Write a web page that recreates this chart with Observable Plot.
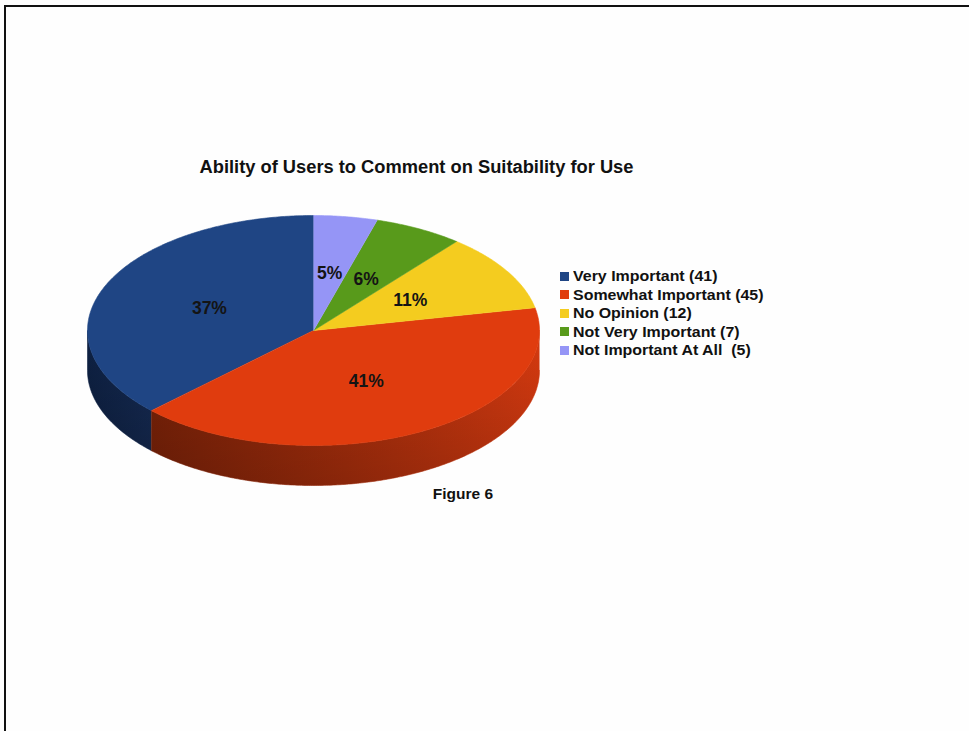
<!DOCTYPE html>
<html><head><meta charset="utf-8">
<script src="https://cdn.jsdelivr.net/npm/d3@7"></script>
<script src="https://cdn.jsdelivr.net/npm/@observablehq/plot@0.6"></script>
<style>
html,body{margin:0;padding:0;background:#fefefe;overflow:hidden;}
#page{position:relative;width:969px;height:731px;overflow:hidden;background:#fefefe;font-family:"Liberation Sans",Arial,sans-serif;color:#111;}
#frame{position:absolute;left:4px;top:5px;width:1100px;height:900px;border:2px solid #111;box-sizing:border-box;}
#chart{position:absolute;left:0;top:0;}
#title{position:absolute;left:0;width:833px;top:157px;text-align:center;font-weight:bold;font-size:17.5px;white-space:nowrap;transform:scaleX(1.045);}
#caption{position:absolute;left:363px;width:200px;top:485px;text-align:center;font-weight:bold;font-size:15.5px;}
#legend{position:absolute;left:560px;top:267px;font-weight:bold;font-size:14.5px;}
#legend .row{display:flex;align-items:center;height:18.5px;white-space:pre;}
#legend .sw{width:9px;height:9px;margin-right:4px;flex:none;}
#legend .lab{display:inline-block;transform:scaleX(1.1);transform-origin:left center;}
</style>
</head><body>
<div id="page">
  <div id="frame"></div>
  <div id="chart"></div>
  <div id="title"></div>
  <div id="legend"></div>
  <div id="caption"></div>
</div>
<script>
const titleText = "Ability of Users to Comment on Suitability for Use";
const captionText = "Figure 6";
const categories = ["Very Important", "Somewhat Important", "No Opinion", "Not Very Important", "Not Important At All"];
const counts = [41, 45, 12, 7, 5];
const legendLabels = ["Very Important (41)", "Somewhat Important (45)", "No Opinion (12)", "Not Very Important (7)", "Not Important At All  (5)"];
const topColors = ["#1f4584", "#e03c0e", "#f4cc1f", "#589a1b", "#9595f6"];
const sideLeftColors = ["#0e2143", "#7a2208", "#b89414", "#3e6e12", "#6a6ab8"];
const sideRightColors = ["#152a52", "#d63a10", "#d8b418", "#4a8216", "#8080d8"];

const total = d3.sum(counts);
const depth = 40 / 115; // side height in y units
const arcs = d3.pie().sort(null).startAngle(0).endAngle(-2 * Math.PI)(counts);

const pt = (a, r = 1, dy = 0) => ({x: r * Math.sin(a), y: -r * Math.cos(a) + dy});
function arcPoints(a0, a1, dy = 0) {
  const n = Math.max(2, Math.ceil(Math.abs(a1 - a0) / 0.01));
  return d3.range(n + 1).map(k => pt(a0 + (a1 - a0) * k / n, 1, dy));
}

// top faces
const tops = arcs.flatMap((d, i) => [
  {...pt(0, 0), key: categories[i], color: topColors[i]},
  ...arcPoints(d.startAngle, d.endAngle).map(p => ({...p, key: categories[i], color: topColors[i]}))
]);

// front sides (visible where the rim faces the viewer)
const frontLo = -1.5 * Math.PI, frontHi = -0.5 * Math.PI;
const sides = [];
arcs.forEach((d, i) => {
  const lo = Math.max(Math.min(d.startAngle, d.endAngle), frontLo);
  const hi = Math.min(Math.max(d.startAngle, d.endAngle), frontHi);
  if (hi > lo) {
    const pts = [...arcPoints(lo, hi), ...arcPoints(hi, lo, depth)];
    sides.push({i, pts});
  }
});

const labels = arcs.map((d, i) => {
  const m = (d.startAngle + d.endAngle) / 2;
  return {...pt(m, 0.5), text: Math.round(counts[i] / total * 100) + "%"};
});

const svg = Plot.plot({
  width: 969,
  height: 731,
  margin: 0,
  x: {domain: [-1, 1], range: [87, 539], axis: null},
  y: {domain: [-1, 1], range: [215, 445], axis: null},
  color: {type: "identity"},
  style: {background: "transparent", overflow: "visible"},
  marks: [
    ...sides.map(s => Plot.line(s.pts, {x: "x", y: "y", fill: `url(#sideGrad${s.i})`, stroke: `url(#sideGrad${s.i})`, strokeWidth: 0.6})),
    ...sides.map(s => Plot.line(s.pts, {x: "x", y: "y", fill: "url(#shadeGrad)", stroke: "none"})),
    Plot.line(tops, {x: "x", y: "y", z: "key", fill: "color", stroke: "color", strokeWidth: 0.6}),
    Plot.text(labels, {x: "x", y: "y", text: "text", fontSize: 17.5, fontWeight: "bold", fill: "#141414", fontFamily: "Liberation Sans, Arial, sans-serif"})
  ]
});

const defs = d3.select(svg).insert("defs", ":first-child");
sides.forEach(s => {
  const g = defs.append("linearGradient").attr("id", `sideGrad${s.i}`)
    .attr("x1", "0").attr("y1", "0").attr("x2", "1").attr("y2", "0");
  g.append("stop").attr("offset", "0").attr("stop-color", sideLeftColors[s.i]);
  g.append("stop").attr("offset", "1").attr("stop-color", sideRightColors[s.i]);
});
const sg = defs.append("linearGradient").attr("id", "shadeGrad")
  .attr("x1", "0").attr("y1", "0").attr("x2", "0").attr("y2", "1");
sg.append("stop").attr("offset", "0").attr("stop-color", "#000").attr("stop-opacity", 0);
sg.append("stop").attr("offset", "1").attr("stop-color", "#000").attr("stop-opacity", 0.18);

document.getElementById("chart").append(svg);
document.getElementById("title").textContent = titleText;
document.getElementById("caption").textContent = captionText;
const legend = d3.select("#legend");
legendLabels.forEach((l, i) => {
  const row = legend.append("div").attr("class", "row");
  row.append("div").attr("class", "sw").style("background", topColors[i]);
  row.append("span").attr("class", "lab").text(l);
});
</script>
</body></html>
